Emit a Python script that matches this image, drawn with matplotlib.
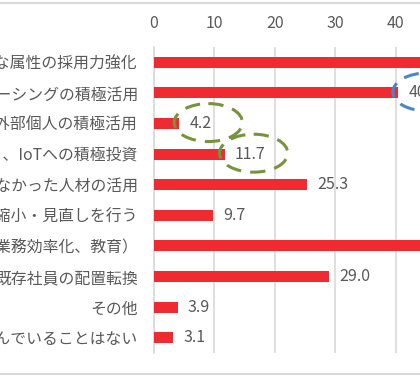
import numpy as np
from matplotlib import pyplot as plt
from matplotlib.patches import Ellipse
from matplotlib.lines import Line2D

plt.rcParams['font.family'] = ['Noto Sans CJK JP', 'DejaVu Sans']

labels = [
    "多様な属性の採用力強化",
    "アウトソーシングの積極活用",
    "フリーランスなど外部個人の積極活用",
    "AI（人工知能）、IoTへの積極投資",
    "活用できていなかった人材の活用",
    "事業の縮小・見直しを行う",
    "既存社員の育成（業務効率化、教育）",
    "既存社員の配置転換",
    "その他",
    "特に取り組んでいることはない",
]
values = [52.0, 40.4, 4.2, 11.7, 25.3, 9.7, 47.5, 29.0, 3.9, 3.1]
xticks = [0, 10, 20, 30, 40]

# which labels get a dashed ring, and its colour
rings = {2: '#77933C', 3: '#77933C', 1: '#4A86C8'}

text_col = '#595959'
grid_col = '#D9D9D9'

fig = plt.figure(figsize=(4.2, 3.78), dpi=100)
ax = fig.add_axes([154/420, 1 - 353/378, 1 - 154/420, 306/378])

y = np.arange(len(values))
bars = ax.barh(y, values, height=0.36, color='#EF2A30', zorder=3)
ax.bar_label(bars, fmt='%.1f', padding=7.5, color=text_col, fontsize=11.5, clip_on=False)

ax.set_xlim(0, 44.04)
ax.set_ylim(len(values) - 0.5, -0.5)
ax.set_xticks(xticks)
ax.set_yticks(y)
ax.set_yticklabels(labels)
ax.xaxis.tick_top()
ax.tick_params(axis='x', length=0, pad=10.5, labelsize=11.5, labelcolor=text_col)
ax.tick_params(axis='y', length=0, pad=11.5, labelsize=11.4, labelcolor=text_col)
ax.grid(axis='x', color=grid_col, linewidth=1.2, zorder=0)
for s in ['top', 'right', 'bottom']:
    ax.spines[s].set_visible(False)
ax.spines['left'].set_color(grid_col)
ax.spines['left'].set_linewidth(1.2)

for i, col in rings.items():
    e = Ellipse((values[i] + 4.8, i - 0.03), 11.3, 1.24, fill=False,
                edgecolor=col, linewidth=2.2, linestyle=(0, (5, 3)),
                zorder=4, clip_on=False)
    ax.add_patch(e)

# outer frame lines of the chart area
fig.add_artist(Line2D([0, 1], [1 - 3/378, 1 - 3/378], color=grid_col, linewidth=1.5))
fig.add_artist(Line2D([0, 1], [1 - 374/378, 1 - 374/378], color=grid_col, linewidth=1.5))

fig.savefig('out.png', dpi=100)
